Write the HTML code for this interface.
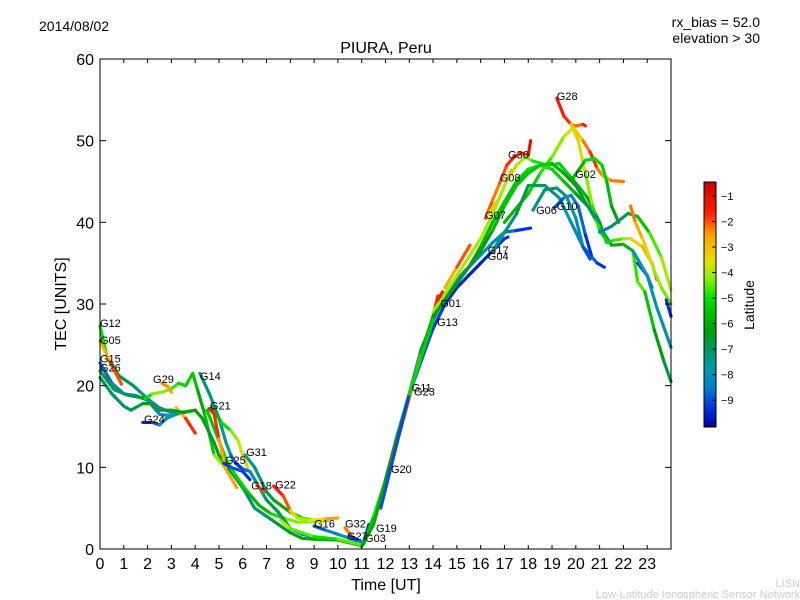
<!DOCTYPE html>
<html><head><meta charset="utf-8"><style>
body{margin:0;background:#fff;}
svg{display:block;font-family:"Liberation Sans","DejaVu Sans",sans-serif;}
</style></head><body>
<svg id="chart" width="800" height="600" viewBox="0 0 800 600" xmlns="http://www.w3.org/2000/svg">
<rect width="800" height="600" fill="#fff"/>
<text x="39" y="31" font-size="14">2014/08/02</text>
<text x="760" y="27" font-size="14" text-anchor="end">rx_bias = 52.0</text>
<text x="760" y="43" font-size="14" text-anchor="end">elevation &gt; 30</text>
<text x="386" y="53" font-size="16" text-anchor="middle">PIURA, Peru</text>
<g id="plot"></g>
<g id="axes"></g>
<text x="386" y="590" font-size="16" text-anchor="middle">Time [UT]</text>
<text x="66" y="304" font-size="16" text-anchor="middle" transform="rotate(-90 66 304)">TEC [UNITS]</text>
<g id="cbar"></g>
<text x="754" y="305" font-size="14" text-anchor="middle" transform="rotate(-90 754 305)">Latitude</text>
<text x="800" y="587" font-size="11" fill="#ccc" text-anchor="end">LISN</text>
<text x="800" y="598" font-size="11" fill="#ccc" text-anchor="end">Low-Latitude Ionospheric Sensor Network</text>
</svg>
<script>
const xTicks=[0,1,2,3,4,5,6,7,8,9,10,11,12,13,14,15,16,17,18,19,20,21,22,23];
const yTicks=[0,10,20,30,40,50,60];
const cbTicks=[-1,-2,-3,-4,-5,-6,-7,-8,-9];
// tracks: [time UT, TEC, latitude]
const trackNames=["G12","G05","G15","G26","G29","G24a","G24b","DG1","GR1","G14","G14b","G21","G31","G25","G18","G22","G16","G32","G27","G03","G19","YL1","G20","G11","BL1","G17","G07","G30","G08","YG1","G28","G28b","G02a","G02","T1","G10","G06","R1","R2","R3","R4","R5","R6","GR2","G13"];
const tracks=[
[[0,27.3,-4.5],[0.3,23.5,-5.5],[0.8,21.2,-6.5],[1.4,20,-7],[2,18.4,-7.5],[2.5,17.3,-8.5],[3,16.7,-8],[3.5,16.8,-7]],
[[0,25.5,-3],[0.4,23,-2.5],[0.9,20.2,-1.5]],
[[0,22.8,-9],[0.5,20.3,-8.5],[1,19,-8],[1.5,18.8,-8],[2,18.2,-8.2],[2.5,16.5,-8.5],[3,16.3,-7.5]],
[[0,21.8,-6.5],[0.6,19.5,-7],[1.2,18.8,-7],[1.6,18.6,-6.8],[1.9,18.4,-5.5],[2.2,19,-4.5],[2.6,19.2,-4],[3,19.6,-4.5],[3.3,20.3,-5],[3.6,20,-5.5],[3.9,21.5,-5],[4.1,19.5,-6],[4.4,16.5,-6],[4.8,11.5,-5],[5.25,10,-3.5],[5.75,7.5,-1.5]],
[[2.6,20.3,-1.8],[2.9,19.8,-3],[3,19.2,-2]],
[[1.8,15.5,-9.5],[2.2,15.5,-9.5],[2.5,15.2,-8.5],[2.8,16,-8],[3.2,16.5,-7.5],[3.6,16.8,-7],[4,17,-6]],
[[3.2,17.3,-3.8],[3.6,16,-2],[4,14.2,-1.5]],
[[0,21,-7],[0.5,19,-7],[1,17.5,-7],[1.3,17,-7],[1.8,17.8,-6.5],[2.2,17.8,-6.5],[2.5,17,-6.5],[3,17,-6.5],[3.5,16.7,-6.5],[4,17,-6],[4.3,16,-6.5],[4.8,13,-6.5],[5,11.5,-6.5],[5.5,9.5,-6.5],[6,7.5,-7],[6.5,5,-7],[7,4,-7],[7.5,3,-6.5],[8,2,-6.5],[8.5,1.3,-6],[9,1.2,-6],[10,1.1,-6],[11,0.4,-6]],
[[4.5,17,-5.5],[4.9,14,-5.5],[5.3,11,-5],[5.7,9,-5],[6.2,7,-5.5],[6.7,5.3,-6],[7.2,4.3,-5.5],[7.8,3.7,-4.5],[8.3,3.3,-4.2],[9,3.3,-4.3],[9.6,3.5,-3.5]],
[[4.2,21.5,-7.5],[4.6,19,-7],[5,16,-7.5],[5.3,13,-7.5],[5.5,11.5,-8],[5.7,10.5,-9.5],[6,9.8,-9],[6.3,9.5,-8.5],[6.5,8.5,-7.5],[7,6,-7],[7.5,4.5,-6.5],[8,2.5,-7.5],[8.5,1.8,-9],[9,1.5,-8]],
[[4.7,17.4,-6],[5.1,15.5,-5.5],[5.5,14.5,-4.5],[5.8,13.3,-4],[6,11.5,-3.5],[6.2,10,-2.8]],
[[4.6,17.2,-1.5],[4.8,16.5,-1.5],[5,13.5,-2],[5.2,11,-3],[5.3,10,-2.5]],
[[6.1,11.5,-7.5],[6.5,10,-7.5],[7,7,-7],[7.3,6,-6.5],[8,4.5,-5.5],[8.5,3.8,-5],[9,3.5,-4.5]],
[[5.2,10.5,-9.5],[5.5,10,-9],[6,9.5,-9],[6.3,8.5,-9.5]],
[[6.6,7.8,-1.5],[6.9,7,-2.5]],
[[7.3,7.7,-1.5],[7.7,6.5,-1.5],[8,4.7,-2.5],[8.3,3.8,-4],[8.8,3.5,-4],[9.5,3.7,-3],[10,3.8,-2]],
[[9,2.8,-9.5],[9.5,2.3,-8.5],[10,1.8,-8],[10.5,1.3,-7.5],[11,0.8,-8]],
[[10.3,2.6,-1.5],[10.6,1.5,-3],[11,0.8,-4]],
[[10.5,1.6,-9.5],[10.9,1.0,-9],[11.1,0.7,-8]],
[[11.3,3,-9.5],[11.1,1,-9]],
[[11.1,0.8,-6],[11.5,4,-5],[11.9,7.5,-4.8]],
[[7.6,3.5,-4],[8,2.5,-4],[9,1.5,-5],[10,1.2,-5],[11,0.5,-4]],
[[11,0.3,-6],[11.5,3,-6],[12,8.5,-6],[12.5,14,-6.5],[13,19,-7],[13.5,24.5,-7],[14,28,-7],[14.5,31,-7],[15,33,-6.5],[15.5,34.5,-6],[16,37,-6],[16.5,40,-5.5],[17,42.5,-5.5],[17.5,45,-5.5],[18,46.5,-5],[18.5,47,-5],[19,46.5,-5],[19.5,45,-5.5],[20,43.5,-6],[20.5,42,-6.5],[21,39.5,-7],[21.5,37.2,-6],[22,37.3,-6],[22.4,36.5,-5.5],[22.6,32.7,-4],[22.9,31.5,-5],[23.3,26.8,-6],[23.7,23,-6.5],[24,20.5,-7]],
[[12.2,10,-2],[13,18.5,-2],[13.5,24,-2.5],[14,28.5,-2],[14.2,31,-1.5]],
[[11.8,5,-9],[13,19,-9],[14,27,-9],[14.5,30,-9.5],[15,32,-9.5],[15.5,33.5,-9.5],[16,35,-9.5],[16.5,36.5,-9.5],[17,38,-9],[17.15,38.2,-9.5]],
[[14.5,30.5,-8],[15,33,-8],[16,36,-8],[16.5,37.5,-8],[17,38.8,-8.5],[17.5,39,-9],[18.1,39.3,-9.5]],
[[14.5,32,-3],[15,34.5,-2.5],[15.55,37.2,-1.5]],
[[16.2,40.5,-1.5],[16.5,42.7,-2.5],[16.8,44.8,-2],[17.1,47,-2],[17.4,48,-1.5],[17.7,48.5,-2],[18,48.2,-1.5],[18.1,50,-1]],
[[16.3,41,-3],[16.8,43,-3],[17,44.5,-3],[17.3,46.4,-2]],
[[14,29,-4],[15,33.5,-4],[16,38,-4],[16.5,41,-4],[17,44.5,-4],[17.5,47,-3.8],[17.9,48,-4],[18.2,47.5,-4.8],[18.8,47,-5],[19.3,47.2,-5],[19.8,45.5,-5.5],[20.5,43,-6],[21,40,-6.5],[21.3,37.5,-5.5],[21.6,37.8,-4.8],[22,38,-4.5],[22.3,38,-3.5],[22.8,37,-3],[23.2,35,-2.5],[23.4,33,-1.5]],
[[19.2,55.2,-1.5],[19.5,53,-1.5],[19.8,52,-2],[20,51.8,-2.5],[20.3,52,-1.8],[20.4,51.8,-1.5]],
[[19.8,52,-3],[20.1,50,-3.5],[20.4,46,-4],[20.7,42,-4.5],[21,39,-5],[21.3,37.8,-5.5]],
[[17,40,-6],[18,43.5,-5.5],[18.5,46,-5],[19,48,-4.5],[19.5,50.5,-4],[19.9,51.6,-3.5],[20.3,50,-3],[20.6,48.6,-1.5],[20.9,46.6,-2],[21.1,45.8,-2.5],[21.5,45.1,-2.5],[22,45,-2]],
[[19.9,45.5,-6],[20.4,47.6,-5.5],[20.8,47.8,-5],[21.1,47,-5],[21.3,45,-5.5],[21.5,42,-6],[21.8,40,-6.5]],
[[16.5,36.5,-7.5],[17.5,41,-7],[18,44.5,-6.5],[18.7,44.5,-7],[19.3,43,-7.5],[19.8,40,-8],[20.3,37,-8.5],[20.9,35,-9],[21.2,34.5,-9.5]],
[[19.1,41.8,-9.5],[19.5,43,-8.5],[19.8,43.3,-8],[20.1,42,-8.5],[20.4,38.5,-9],[20.65,36,-9.5]],
[[18.2,41.5,-7.5],[18.7,44,-7],[19.2,44.2,-7],[19.6,43.2,-7.5],[20,40.5,-8],[20.3,37,-8.5],[20.6,35.5,-9.5]],
[[21,38.8,-9],[21.5,39.5,-8],[22.2,41.1,-6],[22.6,40.7,-6],[23.1,38.7,-5],[23.6,35.7,-4.2],[24,31.7,-3.8]],
[[22.6,35,-9.5],[23,33.5,-9],[23.2,32,-8.5]],
[[22.4,36.5,-7.5],[23,33.5,-8],[23.4,29.6,-8],[24,24.7,-8]],
[[22.3,42,-2],[22.5,40,-2.5],[22.8,38,-3],[23,36.5,-3.5],[23.3,34,-4],[23.6,32,-4.3],[24,30,-4.5]],
[[23.8,30.5,-9.5],[24,28.5,-9]],
[[14.2,30.5,-1.5],[14.4,31.5,-1.5]],
[[13.5,24,-6],[14,28.5,-6],[15,32.5,-6.5],[16,36.5,-6.5],[16.5,39,-6],[17,42,-5.5],[17.5,44.5,-5.5],[18,46,-5.5],[18.5,47,-5.3],[19,47.2,-5.5],[19.5,46,-6],[20,44.5,-6.5],[20.5,42,-7],[21,40,-7]],
[[13,19,-5],[13.5,23.5,-5],[14,28,-5.5]]
];
const labelNames=["G12","G05","G15","G26","G29","G24","G14","G21","G25","G31","G18","G22","G16","G32","G27","G03","G19","G20","G11","G23","G13","G01","G17","G04","G07","G08","G30","G06","G10","G02","G28"];
const labelT=[0,0,0,0,2.23,1.85,4.2,4.62,5.25,6.14,6.35,7.36,9.0,10.3,10.38,11.14,11.6,12.23,13.1,13.2,14.17,14.3,16.3,16.3,16.18,16.8,17.15,18.33,19.2,19.97,19.2];
const labelV=[27.7,25.6,23.3,22.2,20.8,15.9,21.2,17.6,10.9,11.9,7.8,7.9,3.1,3.1,1.6,1.35,2.6,9.8,19.8,19.3,27.8,30.1,36.6,35.9,40.9,45.5,48.3,41.5,42,45.9,55.5];

const X0=100,X1=671,Y0=549,Y1=59;
const xS=t=>X0+t*(X1-X0)/24;
const yS=v=>Y0-v*(Y0-Y1)/60;
const VMIN=-10.05,VMAX=-0.45;
const CM=[[0,[0,0,160]],[0.078,[0,48,224]],[0.16,[0,128,200]],[0.234,[0,153,170]],[0.318,[0,150,100]],[0.40,[0,160,0]],[0.526,[0,224,0]],[0.6,[128,240,0]],[0.68,[232,224,0]],[0.786,[255,160,0]],[0.87,[255,32,0]],[1,[204,0,0]]];
function jet(v){
  let x=(v-VMIN)/(VMAX-VMIN);x=Math.max(0,Math.min(1,x));
  for(let i=0;i<CM.length-1;i++){
    const a=CM[i],b=CM[i+1];
    if(x<=b[0]){const f=(x-a[0])/(b[0]-a[0]);
      const c=a[1].map((q,k)=>Math.round(q+(b[1][k]-q)*f));
      return `rgb(${c[0]},${c[1]},${c[2]})`;}
  }
  return 'rgb(204,0,0)';
}
const NS="http://www.w3.org/2000/svg";
function mk(tag,attrs,parent){const e=document.createElementNS(NS,tag);for(const k in attrs)e.setAttribute(k,attrs[k]);parent.appendChild(e);return e;}
const plot=document.getElementById('plot');
tracks.forEach((tr,i)=>{
  const g=mk('g',{},plot);
  
  
  for(let j=0;j<tr.length-1;j++){
    const a=tr[j],b=tr[j+1];
    const ln=mk('line',{x1:xS(a[0]),y1:yS(a[1]),x2:xS(b[0]),y2:yS(b[1]),stroke:jet((a[2]+b[2])/2),'stroke-width':3.2,'stroke-linecap':'round'},g);
    
    
  }
});
labelNames.forEach((n,i)=>{
  const t=mk('text',{x:xS(labelT[i]),y:yS(labelV[i])+4,'font-size':11},plot);
  
  
  t.textContent=n;
});
const axes=document.getElementById('axes');
const fr=mk('rect',{x:X0,y:Y1,width:X1-X0,height:Y0-Y1,fill:'none',stroke:'#000','stroke-width':1},axes);


xTicks.forEach(t=>{
  const x=xS(t);
  mk('line',{x1:x,y1:Y0,x2:x,y2:Y0-4,stroke:'#000'},axes);
  mk('line',{x1:x,y1:Y1,x2:x,y2:Y1+4,stroke:'#000'},axes);
  const tx=mk('text',{x:x,y:Y0+20,'font-size':16,'text-anchor':'middle'},axes);
  
  
  tx.textContent=t;
});
yTicks.forEach(v=>{
  const y=yS(v);
  mk('line',{x1:X0,y1:y,x2:X0+6,y2:y,stroke:'#000'},axes);
  mk('line',{x1:X1,y1:y,x2:X1-6,y2:y,stroke:'#000'},axes);
  const tx=mk('text',{x:X0-6,y:y+6,'font-size':16,'text-anchor':'end'},axes);
  
  
  tx.textContent=v;
});
const cb=document.getElementById('cbar');
const CX=704,CW=12,CT=182,CB=427;
const defs=mk('defs',{},cb);
const lg=mk('linearGradient',{id:'jetg',x1:0,y1:1,x2:0,y2:0},defs);
for(let i=0;i<=40;i++){mk('stop',{offset:i/40,'stop-color':jet(VMIN+(VMAX-VMIN)*i/40)},lg);}
const cr=mk('rect',{x:CX,y:CT,width:CW,height:CB-CT,fill:'url(#jetg)',stroke:'#000','stroke-width':1},cb);


cbTicks.forEach(v=>{
  const y=CB-(v-VMIN)/(VMAX-VMIN)*(CB-CT);
  mk('line',{x1:CX+CW-4,y1:y,x2:CX+CW,y2:y,stroke:'#000'},cb);
  const tx=mk('text',{x:CX+CW+5,y:y+4,'font-size':11},cb);
  
  
  tx.textContent='\u2212'+Math.abs(v);
});
</script>
</body></html>
